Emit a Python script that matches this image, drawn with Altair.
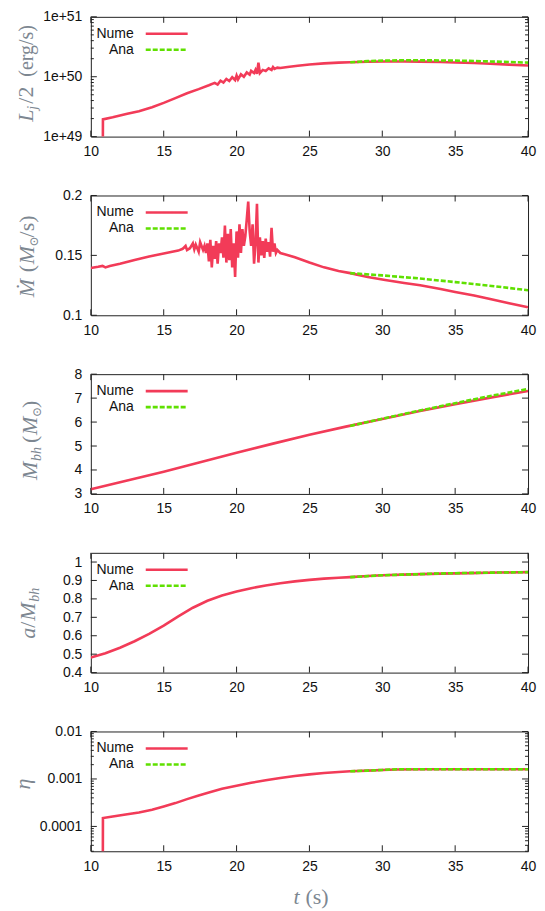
import altair as alt
import pandas as pd

RED = "#f23b58"
GREEN = "#5fe000"
W, H = 438, 120
SERIES = ["Nume", "Ana"]
X_TICKS = [10, 15, 20, 25, 30, 35, 40]

# ---------------- Panel 1: L_j/2 (erg/s) ----------------
L_t = [10.82, 10.83, 11.5, 12.5, 13.3, 14.2, 15.0, 15.8, 16.6, 17.4, 18.1, 18.5, 18.7, 18.9,
       19.1, 19.3, 19.5, 19.7, 19.9, 20.0, 20.1, 20.3, 20.5, 20.7, 20.9, 21.0, 21.2, 21.3,
       21.4, 21.5, 21.6, 21.8, 22.0, 22.2, 22.4, 22.5, 22.6, 22.8, 23.0, 23.5, 24.2, 25.0,
       26.0, 27.0, 27.8, 29.0, 30.2, 31.5, 32.6, 34.0, 35.0, 36.3, 37.4, 38.7, 40.0]
L_num = [5e48, 1.94e49, 2.1e49, 2.4e49, 2.66e49, 3.1e49, 3.66e49, 4.4e49, 5.3e49, 6.2e49,
         7.2e49, 7.9e49, 7.4e49, 8.6e49, 8.0e49, 9.2e49, 8.5e49, 9.8e49, 8.8e49, 1.05e50,
         9.0e49, 1.1e50, 1.0e50, 1.18e50, 1.08e50, 1.25e50, 1.15e50, 1.3e50, 1.12e50, 1.72e50,
         1.15e50, 1.3e50, 1.25e50, 1.38e50, 1.3e50, 1.45e50, 1.35e50, 1.42e50, 1.4e50, 1.45e50,
         1.52e50, 1.6e50, 1.67e50, 1.72e50, 1.74e50, 1.78e50, 1.8e50, 1.8e50, 1.79e50, 1.76e50,
         1.73e50, 1.69e50, 1.65e50, 1.59e50, 1.54e50]
L_ana_t = [27.8, 29.0, 30.2, 31.5, 32.6, 34.0, 35.0, 36.3, 37.4, 38.7, 40.0]
L_ana = [1.74e50, 1.82e50, 1.86e50, 1.88e50, 1.88e50, 1.87e50, 1.86e50, 1.83e50, 1.8e50, 1.76e50, 1.72e50]
L_major = [1e49, 1e50, 1e51]
L_minor = [2e49, 3e49, 4e49, 5e49, 6e49, 7e49, 8e49, 9e49,
           2e50, 3e50, 4e50, 5e50, 6e50, 7e50, 8e50, 9e50]

# ---------------- Panel 2: Mdot ----------------
M_t = [10.0, 10.5, 10.8, 11.0, 11.3, 12.0, 13.0, 14.0, 15.0, 15.5, 16.0, 16.3, 16.5, 16.6, 16.8,
       17.0, 17.1, 17.2, 17.4, 17.5, 17.7, 17.8, 17.9, 18.0, 18.1, 18.2, 18.3, 18.4, 18.5, 18.6,
       18.7, 18.8, 18.9, 19.0, 19.1, 19.2, 19.3, 19.4, 19.5, 19.6, 19.7, 19.8, 19.9, 20.0, 20.1,
       20.2, 20.3, 20.4, 20.5, 20.6, 20.7, 20.8, 20.9, 21.0, 21.1, 21.2, 21.3, 21.4, 21.5, 21.6,
       21.7, 21.8, 21.9, 22.0, 22.1, 22.2, 22.3, 22.4, 22.5, 22.6, 22.7, 22.8, 23.0, 23.3, 24.0,
       25.0, 26.0, 27.0, 27.8, 29.0, 30.2, 31.5, 32.6, 34.0, 35.0, 36.3, 37.4, 38.7, 40.0]
M_num = [0.1395, 0.1405, 0.1412, 0.1400, 0.1412, 0.1430, 0.1462, 0.1490, 0.1515, 0.1528, 0.1540,
         0.1555, 0.1580, 0.1545, 0.1560, 0.1600, 0.1550, 0.1590, 0.1530, 0.1610, 0.1545, 0.1580,
         0.1520, 0.1600, 0.1450, 0.1630, 0.1400, 0.1580, 0.1470, 0.1620, 0.1430, 0.1600, 0.1520,
         0.1650, 0.1480, 0.1750, 0.1440, 0.1680, 0.1460, 0.1720, 0.1400, 0.1600, 0.1320, 0.1700,
         0.1480, 0.1760, 0.1520, 0.1720, 0.1580, 0.1660, 0.1800, 0.1950, 0.1700, 0.1580, 0.1760,
         0.1430, 0.1600, 0.1930, 0.1440, 0.1650, 0.1500, 0.1620, 0.1480, 0.1640, 0.1530, 0.1610,
         0.1490, 0.1730, 0.1530, 0.1600, 0.1520, 0.1545, 0.1520, 0.1510, 0.1485, 0.1440, 0.1400,
         0.1370, 0.1352, 0.1320, 0.1295, 0.1270, 0.1250, 0.1220, 0.1195, 0.1165, 0.1135, 0.1100,
         0.1067]
M_ana_t = [27.8, 30.0, 32.5, 35.0, 37.5, 40.0]
M_ana = [0.1352, 0.1333, 0.1308, 0.1277, 0.1245, 0.1209]
M_major = [0.1, 0.15, 0.2]

# ---------------- Panel 3: M_bh ----------------
B_t = [10.0, 12.5, 15.0, 17.5, 20.0, 22.5, 25.0, 27.5, 30.0, 32.5, 35.0, 37.5, 40.0]
B_num = [3.2, 3.56, 3.93, 4.32, 4.72, 5.1, 5.47, 5.81, 6.13, 6.45, 6.75, 7.03, 7.3]
B_ana_t = [27.8, 30.0, 32.5, 35.0, 37.5, 40.0]
B_ana = [5.84, 6.14, 6.47, 6.79, 7.1, 7.38]
B_major = [3, 4, 5, 6, 7, 8]

# ---------------- Panel 4: a/M_bh ----------------
A_t = [10, 11, 12, 13, 14, 15, 16, 17, 18, 19, 20, 21, 22, 23, 24, 25, 26, 27, 27.8, 29, 30,
       32, 34, 36, 38, 40]
A_num = [0.482, 0.505, 0.535, 0.57, 0.61, 0.655, 0.705, 0.752, 0.79, 0.818, 0.84, 0.858, 0.873,
         0.885, 0.895, 0.903, 0.91, 0.915, 0.918, 0.924, 0.928, 0.933, 0.937, 0.94, 0.943, 0.945]
A_ana_t = [27.8, 30, 32, 34, 36, 38, 40]
A_ana = [0.918, 0.928, 0.933, 0.938, 0.941, 0.943, 0.945]
A_major = [0.4, 0.5, 0.6, 0.7, 0.8, 0.9, 1.0]

# ---------------- Panel 5: eta ----------------
E_t = [10.82, 10.83, 11.5, 12.5, 13.3, 14.2, 15.0, 15.8, 16.6, 17.4, 18.1, 19.0, 20.0, 21.0,
       22.0, 23.0, 24.0, 25.0, 26.0, 27.0, 27.8, 29.0, 30.0, 31.0, 33.0, 35.0, 37.5, 40.0]
E_num = [1e-5, 1.5e-4, 1.62e-4, 1.8e-4, 1.97e-4, 2.25e-4, 2.63e-4, 3.1e-4, 3.76e-4, 4.5e-4,
         5.2e-4, 6.2e-4, 7.2e-4, 8.3e-4, 9.4e-4, 1.05e-3, 1.15e-3, 1.25e-3, 1.33e-3, 1.4e-3,
         1.45e-3, 1.5e-3, 1.54e-3, 1.58e-3, 1.6e-3, 1.6e-3, 1.6e-3, 1.6e-3]
E_ana_t = [27.8, 29.0, 30.0, 31.0, 33.0, 35.0, 37.5, 40.0]
E_ana = [1.45e-3, 1.5e-3, 1.55e-3, 1.6e-3, 1.6e-3, 1.6e-3, 1.6e-3, 1.6e-3]
E_major = [1e-4, 1e-3, 1e-2]
E_minor = [3e-5, 4e-5, 5e-5, 6e-5, 7e-5, 8e-5, 9e-5,
           2e-4, 3e-4, 4e-4, 5e-4, 6e-4, 7e-4, 8e-4, 9e-4,
           2e-3, 3e-3, 4e-3, 5e-3, 6e-3, 7e-3, 8e-3, 9e-3]

SERIF = "Liberation Serif, DejaVu Serif"
TITLE_COLOR = "#7d8791"

# y-title pieces: (text, italic, size, dx along text, dy subscript)
TITLE1 = [("L", True, 22, 0, 0), ("j", True, 14, 12, 4), ("/2", False, 22, 18, 0),
          ("(erg/s)", False, 20, 45, 0)]
TITLE2 = [("Ṁ", True, 22, 0, 0), ("(", False, 22, 25, 0), ("M", True, 22, 33, 0),
          ("⊙", False, 12, 51, 4), ("/s)", False, 22, 60, 0)]
TITLE3 = [("M", True, 22, 0, 0), ("bh", True, 14, 19, 4), ("(", False, 22, 37, 0),
          ("M", True, 22, 45, 0), ("⊙", False, 12, 63, 4), (")", False, 22, 72, 0)]
TITLE4 = [("a", True, 22, 0, 0), ("/", False, 22, 11, 0), ("M", True, 22, 18, 0),
          ("bh", True, 14, 37, 4)]
TITLE5 = [("η", True, 22, 0, 0)]
XTITLE = [("t", True, 22, 0, 0), ("(s)", False, 22, 12, 0)]

color_scale = alt.Scale(domain=SERIES, range=[RED, GREEN])
xscale = alt.Scale(domain=[10, 40], nice=False, zero=False)
xaxis = alt.Axis(values=X_TICKS, title=None, ticks=False, domain=False, grid=False,
                 labelPadding=8, labelFlush=False, labelOverlap=False)


def text_parts(parts, x, y, angle):
    layers = []
    for txt, it, size, dx, dy in parts:
        layers.append(
            alt.Chart(pd.DataFrame({"s": [txt]})).mark_text(
                align="left", baseline="alphabetic", angle=angle, dx=dx, dy=dy,
                font=SERIF, fontSize=size, fontStyle="italic" if it else "normal",
                color=TITLE_COLOR,
            ).encode(text="s:N", x=alt.value(x), y=alt.value(y))
        )
    return layers


def panel(nt, nv, at, av, yscale, y_major, y_minor, title, tx, ty, with_xtitle=False):
    yaxis = alt.Axis(values=y_major, title=None, ticks=False, domain=False, grid=False,
                     labelPadding=9, format="~g", labelFlush=False, labelOverlap=False)
    X = alt.X("t:Q", scale=xscale, axis=xaxis)
    Y = alt.Y("v:Q", scale=yscale, axis=yaxis)
    num_df = pd.DataFrame({"t": nt, "v": nv, "series": "Nume"})
    ana_df = pd.DataFrame({"t": at, "v": av, "series": "Ana"})
    layers = [
        alt.Chart(num_df).mark_line(strokeWidth=2.6, clip=True).encode(
            x=X, y=Y, color=alt.Color("series:N", scale=color_scale, legend=None)),
        alt.Chart(ana_df).mark_line(strokeWidth=2.6, strokeDash=[5, 2], clip=True).encode(
            x=X, y=Y, color=alt.Color("series:N", scale=color_scale, legend=None)),
    ]
    xt = pd.DataFrame({"t": X_TICKS})
    for y1, y2 in [(H, H - 6), (0, 6)]:
        layers.append(alt.Chart(xt).mark_rule(color="#222", strokeWidth=1).encode(
            x=X, y=alt.value(y1), y2=alt.value(y2)))
    for vals, size in [(y_major, 6), (y_minor, 3)]:
        if not vals:
            continue
        yt = pd.DataFrame({"v": vals})
        for x1, x2 in [(0, size), (W - size, W)]:
            layers.append(alt.Chart(yt).mark_rule(color="#222", strokeWidth=1).encode(
                y=Y, x=alt.value(x1), x2=alt.value(x2)))
    # key
    for i, s in enumerate(SERIES):
        yy = 17 + 16 * i
        d = pd.DataFrame({"series": [s]})
        layers.append(alt.Chart(d).mark_text(
            align="right", baseline="middle", font="Liberation Sans", fontSize=14,
            color="#111").encode(text="series:N", x=alt.value(43), y=alt.value(yy)))
        layers.append(alt.Chart(d).mark_rule(
            strokeWidth=2.6, strokeDash=[1, 0] if i == 0 else [5, 2]).encode(
            x=alt.value(55), x2=alt.value(97), y=alt.value(yy),
            color=alt.Color("series:N", scale=color_scale, legend=None)))
    layers += text_parts(title, tx, ty, 270)
    if with_xtitle:
        layers += text_parts(XTITLE, W / 2 - 16, H + 53, 0)
    return alt.layer(*layers).properties(width=W, height=H)


p1 = panel(L_t, L_num, L_ana_t, L_ana,
           alt.Scale(type="log", domain=[1e49, 1e51], nice=False), L_major, L_minor,
           TITLE1, -58, 105)
p2 = panel(M_t, M_num, M_ana_t, M_ana,
           alt.Scale(domain=[0.1, 0.2], nice=False, zero=False), M_major, [],
           TITLE2, -57, 102)
p3 = panel(B_t, B_num, B_ana_t, B_ana,
           alt.Scale(domain=[3, 8], nice=False, zero=False), B_major, [],
           TITLE3, -54, 106)
p4 = panel(A_t, A_num, A_ana_t, A_ana,
           alt.Scale(domain=[0.4, 1.05], nice=False, zero=False), A_major, [],
           TITLE4, -56, 86)
p5 = panel(E_t, E_num, E_ana_t, E_ana,
           alt.Scale(type="log", domain=[3e-5, 1e-2], nice=False), E_major, E_minor,
           TITLE5, -61, 58, with_xtitle=True)

chart = alt.vconcat(p1, p2, p3, p4, p5, spacing=59, bounds="flush").properties(
    padding={"left": 3, "top": 0, "right": 0, "bottom": 0}
).configure_view(stroke="#222", strokeWidth=1).configure_axis(
    labelFont="Liberation Sans", labelFontSize=14, labelColor="#111"
)

chart.save("out.html", embed_options={"renderer": "svg", "actions": False})
